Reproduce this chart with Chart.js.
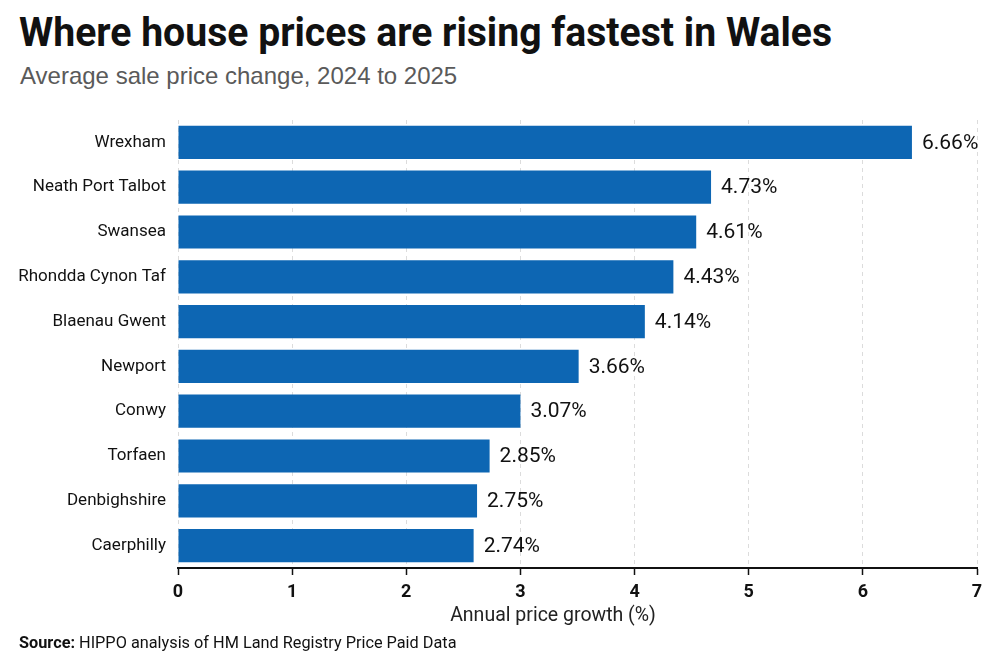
<!DOCTYPE html>
<html>
<head>
<meta charset="utf-8">
<script src="https://cdn.jsdelivr.net/npm/chart.js@4/dist/chart.umd.min.js"></script>
<style>
  html, body { margin: 0; padding: 0; background: #fff; }
  body { width: 999px; height: 666px; position: relative; overflow: hidden; }
  #chart { position: absolute; left: 0; top: 0; }
  #title { position: absolute; left: 19px; top: 8px; font: bold 41px "Roboto", sans-serif; color: #111; white-space: nowrap;
           transform: scaleX(0.955); transform-origin: left top; }
  #subtitle { position: absolute; left: 20px; top: 62px; font: 24px "Liberation Sans", sans-serif; color: #5a5a5a; white-space: nowrap; }
  #axisTitle { position: absolute; left: 553px; top: 603px; transform: translateX(-50%); font: 19.5px "Roboto", sans-serif; color: #222; white-space: nowrap; }
  #source { position: absolute; left: 19px; top: 633px; font: 16.3px "Roboto", sans-serif; color: #111; white-space: nowrap; }
</style>
</head>
<body>
<div id="title">Where house prices are rising fastest in Wales</div>
<div id="subtitle">Average sale price change, 2024 to 2025</div>
<canvas id="chart" width="999" height="666"></canvas>
<div id="axisTitle">Annual price growth (%)</div>
<div id="source"><b>Source:</b> HIPPO analysis of HM Land Registry Price Paid Data</div>
<script>
// local authorities, top to bottom
const areas = ['Wrexham', 'Neath Port Talbot', 'Swansea', 'Rhondda Cynon Taf', 'Blaenau Gwent',
               'Newport', 'Conwy', 'Torfaen', 'Denbighshire', 'Caerphilly'];
// bar lengths as drawn in the picture (axis units)
const barLengths = [6.43, 4.67, 4.54, 4.34, 4.09, 3.51, 3.00, 2.73, 2.62, 2.59];
// value labels as printed next to each bar
const valueLabels = ['6.66%', '4.73%', '4.61%', '4.43%', '4.14%', '3.66%', '3.07%', '2.85%', '2.75%', '2.74%'];
const xTicks = [0, 1, 2, 3, 4, 5, 6, 7];

// draws the printed value to the right of each bar
const barValueLabels = {
    id: 'barValueLabels',
    afterDatasetsDraw(chart) {
        const ctx = chart.ctx;
        const meta = chart.getDatasetMeta(0);
        ctx.save();
        ctx.font = '21px Roboto, sans-serif';
        ctx.fillStyle = '#111';
        ctx.textAlign = 'left';
        ctx.textBaseline = 'middle';
        meta.data.forEach((bar, i) => {
            ctx.fillText(valueLabels[i], bar.x + 10, bar.y + 1);
        });
        ctx.restore();
    }
};

const ctx = document.getElementById('chart').getContext('2d');
const chart = new Chart(ctx, {
    type: 'bar',
    data: {
        labels: areas,
        datasets: [{
            data: barLengths,
            backgroundColor: '#0d66b3',
            borderWidth: 0,
            barPercentage: 0.74,
            categoryPercentage: 1.0
        }]
    },
    options: {
        indexAxis: 'y',
        responsive: false,
        animation: false,
        layout: { padding: { top: 120, right: 22, bottom: 0, left: 0 } },
        plugins: {
            legend: { display: false },
            tooltip: { enabled: false }
        },
        scales: {
            x: {
                min: 0,
                max: 7,
                afterBuildTicks: (scale) => { scale.ticks = xTicks.map(v => ({ value: v })); },
                afterFit: (scale) => { scale.height = 98; },
                grid: {
                    color: '#dcdcdc',
                    lineWidth: 1,
                    drawTicks: true,
                    tickLength: 7,
                    tickColor: '#111',
                    tickWidth: 1.5,
                    tickBorderDash: []
                },
                border: { display: true, color: '#111', width: 2, dash: [4, 4] },
                ticks: {
                    padding: 7,
                    color: '#111',
                    font: { family: 'Roboto', size: 18, weight: 'bold' }
                }
            },
            y: {
                afterFit: (scale) => { scale.width = 178; },
                grid: { display: false, drawTicks: false },
                border: { display: false },
                ticks: {
                    padding: 12,
                    color: '#111',
                    font: { family: 'Roboto', size: 17 }
                }
            }
        }
    },
    plugins: [barValueLabels]
});
</script>
</body>
</html>
